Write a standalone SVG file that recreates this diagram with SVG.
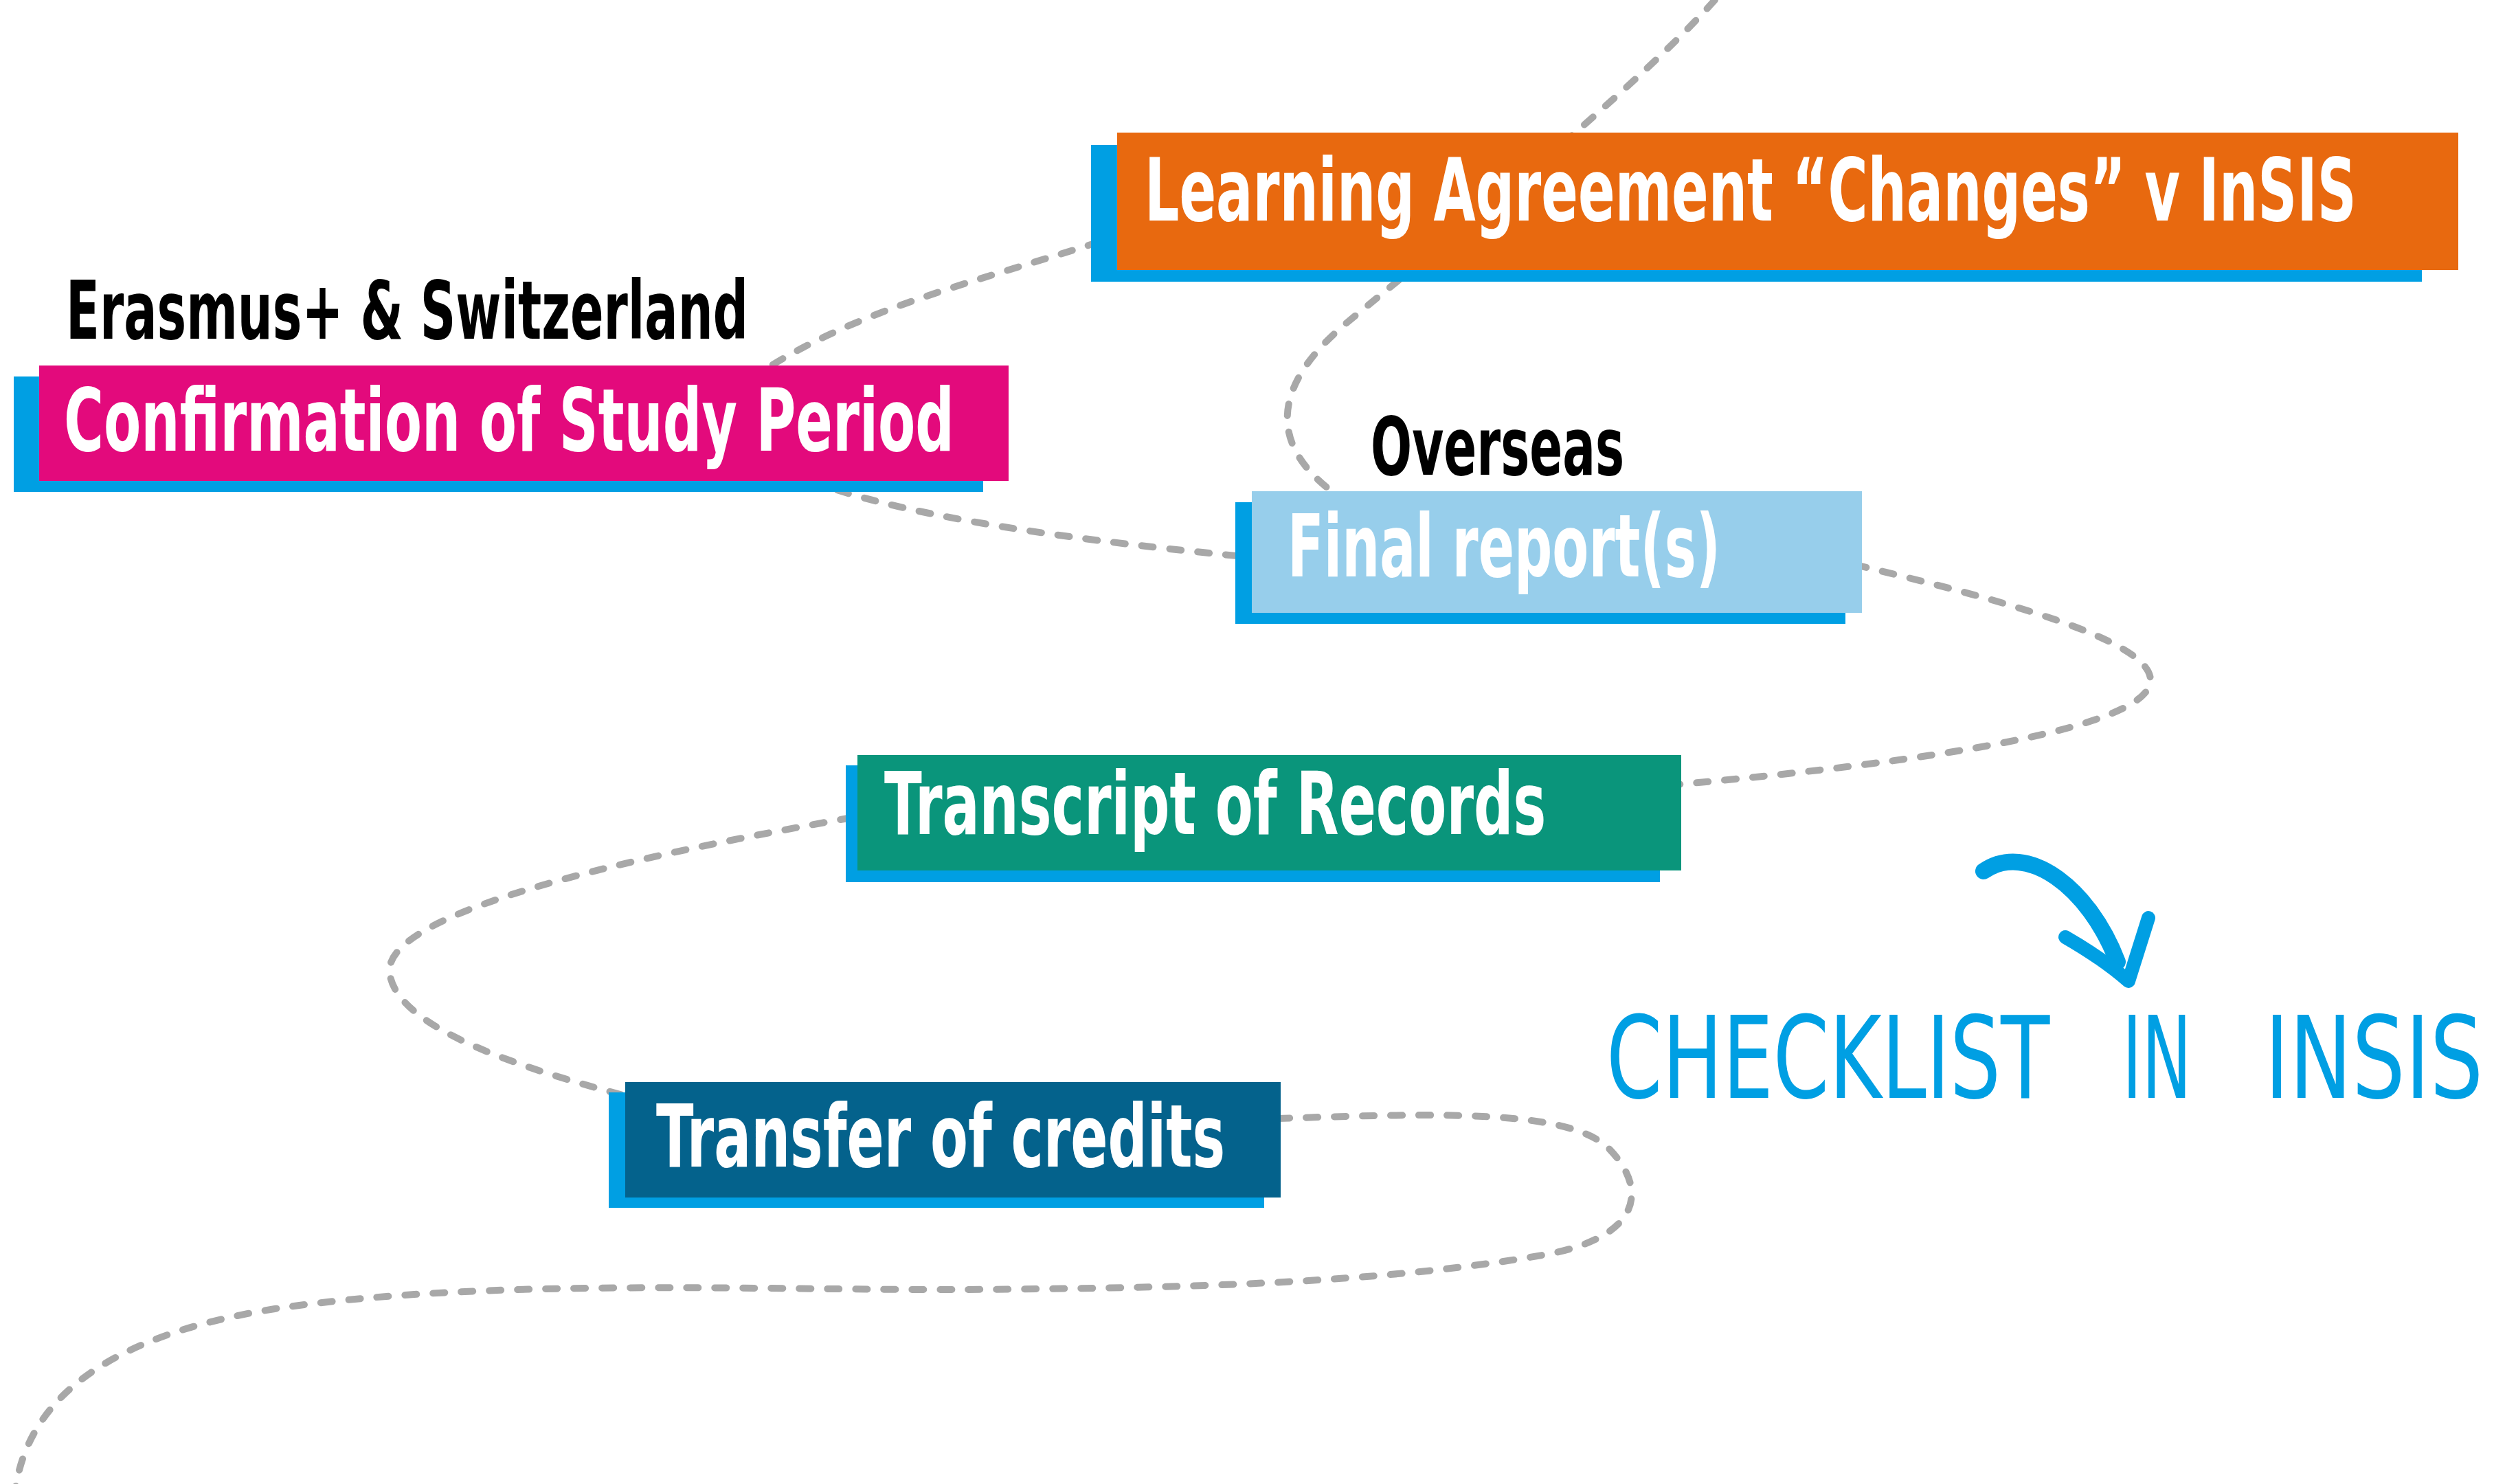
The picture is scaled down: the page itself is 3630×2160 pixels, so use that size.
<svg xmlns="http://www.w3.org/2000/svg" width="3630" height="2160" viewBox="0 0 3630 2160">
<defs>
<style>
.shadow{fill:#009FE3}
.lbl{font-family:"DejaVu Sans Condensed","DejaVu Sans","Liberation Sans",sans-serif;font-weight:bold;font-size:126px;fill:#FFFFFF}
.cap{font-family:"DejaVu Sans Condensed","DejaVu Sans","Liberation Sans",sans-serif;font-weight:bold;font-size:117px;fill:#000000}
.conn{fill:none;stroke:#A8A8A8;stroke-width:10;stroke-linecap:round;stroke-dasharray:17 24}
.hand{font-family:"DejaVu Sans Condensed","DejaVu Sans","Liberation Sans",sans-serif;font-size:165px;fill:#009FE3}
.arrow{fill:none;stroke:#009FE3;stroke-linecap:round;stroke-linejoin:round}
</style>
</defs>
<rect x="0" y="0" width="3630" height="2160" fill="#FFFFFF"/>

<g id="connectors">
<path class="conn" d="M2496,0 C2380,130 2130,330 1960,470 C1840,570 1850,660 1960,730"/>
<path class="conn" d="M1600,352 C1420,410 1250,450 1110,540"/>
<path class="conn" d="M1180,700 C1300,745 1500,780 1810,810"/>
<path class="conn" d="M2700,822 C2900,870 3130,930 3130,990 C3130,1060 2800,1110 2440,1142"/>
<path class="conn" d="M1240,1190 C900,1250 560,1330 567,1415 C575,1500 780,1560 910,1595"/>
<path class="conn" d="M1860,1628 C2100,1620 2280,1615 2340,1670 C2400,1730 2390,1800 2250,1826 C2000,1870 1700,1875 1400,1877 C1100,1878 700,1860 400,1905 C150,1945 40,2040 22,2170"/>
</g>

<g id="node-learning-agreement">
<rect class="shadow" x="1588" y="211" width="1937" height="199"/>
<rect x="1626" y="193" width="1952" height="200" fill="#E8690F"/>
<text class="lbl" transform="translate(1666,321) scale(0.69,1)" x="0" y="0" textLength="2556" lengthAdjust="spacingAndGlyphs">Learning Agreement “Changes” v InSIS</text>
</g>

<g id="node-confirmation">
<text class="cap" transform="translate(96,493) scale(0.69,1)" x="0" y="0" textLength="1439" lengthAdjust="spacingAndGlyphs">Erasmus+ &amp; Switzerland</text>
<rect class="shadow" x="20" y="548" width="1411" height="168"/>
<rect x="57" y="532" width="1411" height="168" fill="#E30A7C"/>
<text class="lbl" transform="translate(93,656) scale(0.69,1)" x="0" y="0" textLength="1878" lengthAdjust="spacingAndGlyphs">Confirmation of Study Period</text>
</g>

<g id="node-final-report">
<text class="cap" transform="translate(1995,691) scale(0.69,1)" x="0" y="0" textLength="535" lengthAdjust="spacingAndGlyphs">Overseas</text>
<rect class="shadow" x="1798" y="731" width="888" height="177"/>
<rect x="1822" y="715" width="888" height="177" fill="#97CEEB"/>
<text class="lbl" transform="translate(1874,839) scale(0.69,1)" x="0" y="0" textLength="913" lengthAdjust="spacingAndGlyphs">Final report(s)</text>
</g>

<g id="node-transcript">
<rect class="shadow" x="1231" y="1114" width="1185" height="170"/>
<rect x="1248" y="1099" width="1199" height="168" fill="#0A957B"/>
<text class="lbl" transform="translate(1287,1214) scale(0.69,1)" x="0" y="0" textLength="1396" lengthAdjust="spacingAndGlyphs">Transcript of Records</text>
</g>

<g id="node-transfer">
<rect class="shadow" x="886" y="1590" width="954" height="168"/>
<rect x="910" y="1575" width="954" height="168" fill="#04628C"/>
<text class="lbl" transform="translate(955,1698) scale(0.69,1)" x="0" y="0" textLength="1200" lengthAdjust="spacingAndGlyphs">Transfer of credits</text>
</g>

<g id="node-checklist">
<path class="arrow" stroke-width="24" d="M2887,1268 C2950,1225 3040,1290 3082,1400"/>
<path class="arrow" stroke-width="20" d="M3006,1364 Q3060,1395 3098,1428 L3127,1336"/>
<text class="hand" transform="translate(2338,1598) scale(0.785,1)" x="0" y="0" textLength="822" lengthAdjust="spacingAndGlyphs">CHECKLIST</text>
<text class="hand" transform="translate(3089,1598) scale(0.65,1)" x="0" y="0" textLength="155" lengthAdjust="spacingAndGlyphs">IN</text>
<text class="hand" transform="translate(3296,1598) scale(0.82,1)" x="0" y="0" textLength="388" lengthAdjust="spacingAndGlyphs">INSIS</text>
</g>
</svg>
